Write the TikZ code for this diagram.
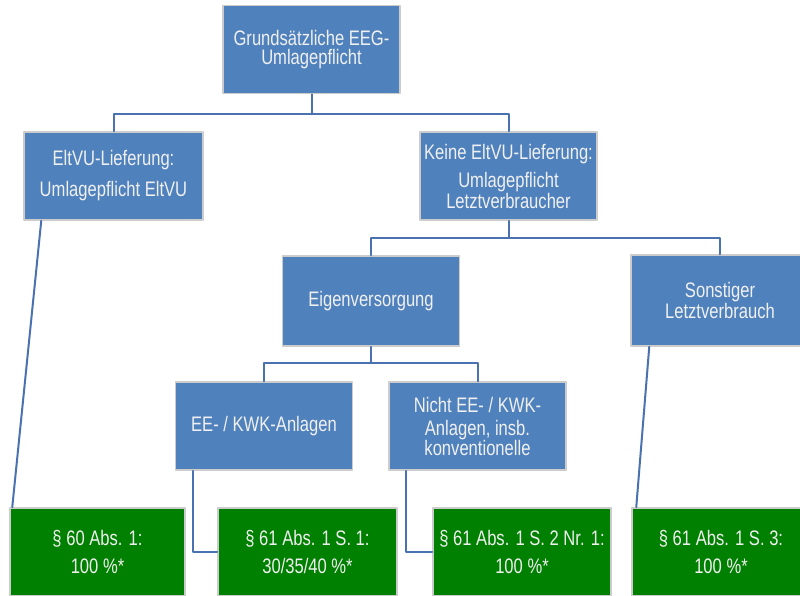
\documentclass[tikz,border=0pt]{standalone}
\usepackage{fontspec}
\setmainfont{Liberation Sans}[FakeStretch=0.79]
\usetikzlibrary{calc}
\definecolor{boxblue}{HTML}{4F81BD}
\definecolor{boxgreen}{HTML}{008000}
\definecolor{linkblue}{HTML}{4A72B0}
\begin{document}
\begin{tikzpicture}[x=1pt,y=-1pt,line cap=round,line join=round,
		box/.style={draw=black!20,line width=1.5pt,fill=boxblue,text=white!94!black,align=center,
			minimum width=177pt,minimum height=88pt,inner sep=0pt,font=\fontsize{21}{21}\selectfont},
		greenbox/.style={box,fill=boxgreen},
		conn/.style={draw=linkblue,line width=2pt}]
	\clip (0,0) rectangle (800,595);
	\fill[white] (0,0) rectangle (800,595);
	% Ebenen
	\node[box] (top) at (311.5,49.5) {Grunds\"atzliche EEG-\\[-2pt]Umlagepflicht};
	\node[box,minimum width=179pt] (eltvu) at (113.5,176) {EltVU-Lieferung:\\[10pt]Umlagepflicht EltVU};
	\node[box] (keine) at (508.5,176) {Keine EltVU-Lieferung:\\[7pt]Umlagepflicht\\Letztverbraucher};
	\node[box,minimum height=90pt] (eigen) at (371,301) {Eigenversorgung};
	\node[box,minimum width=178pt,minimum height=91pt] (sonst) at (720,300.5) {Sonstiger\\Letztverbrauch};
	\node[box] (ee) at (264,426) {EE- / KWK-Anlagen};
	\node[box] (nicht) at (477.5,426) {Nicht EE- / KWK-\\[2pt]Anlagen, insb.\\[-1pt]konventionelle};
	% Ergebnisse
	\node[greenbox,minimum width=175pt] (g1) at (97.5,552) {\S\ 60 Abs. 1:\\[7pt]100 \%*};
	\node[greenbox,minimum width=179pt] (g2) at (307.5,552) {\S\ 61 Abs. 1 S. 1:\\[7pt]30/35/40 \%*};
	\node[greenbox,minimum width=178pt] (g3) at (522,552) {\S\ 61 Abs. 1 S. 2 Nr. 1:\\[7pt]100 \%*};
	\node[greenbox,minimum width=178pt] (g4) at (721,552) {\S\ 61 Abs. 1 S. 3:\\[7pt]100 \%*};
	% Verbindungen
	\draw[conn] (top.south) -- ++(0,20) coordinate (j1);
	\draw[conn] (eltvu.north) |- (j1) -| (keine.north);
	\draw[conn] (keine.south) -- ++(0,17) coordinate (j2);
	\draw[conn] (eigen.north) |- (j2) -| (sonst.north);
	\draw[conn] (eigen.south) -- ++(0,16) coordinate (j3);
	\draw[conn] (ee.north) |- (j3) -| (nicht.north);
	\draw[conn] ($(eltvu.south west)+(18,0)$) -- ($(g1.north west)+(3,0)$);
	\draw[conn] ($(sonst.south west)+(19,0)$) -- ($(g4.north west)+(5,0)$);
	\draw[conn] ($(ee.south west)+(18,0)$) |- (g2.west);
	\draw[conn] ($(nicht.south west)+(18,0)$) |- (g3.west);
\end{tikzpicture}
\end{document}
